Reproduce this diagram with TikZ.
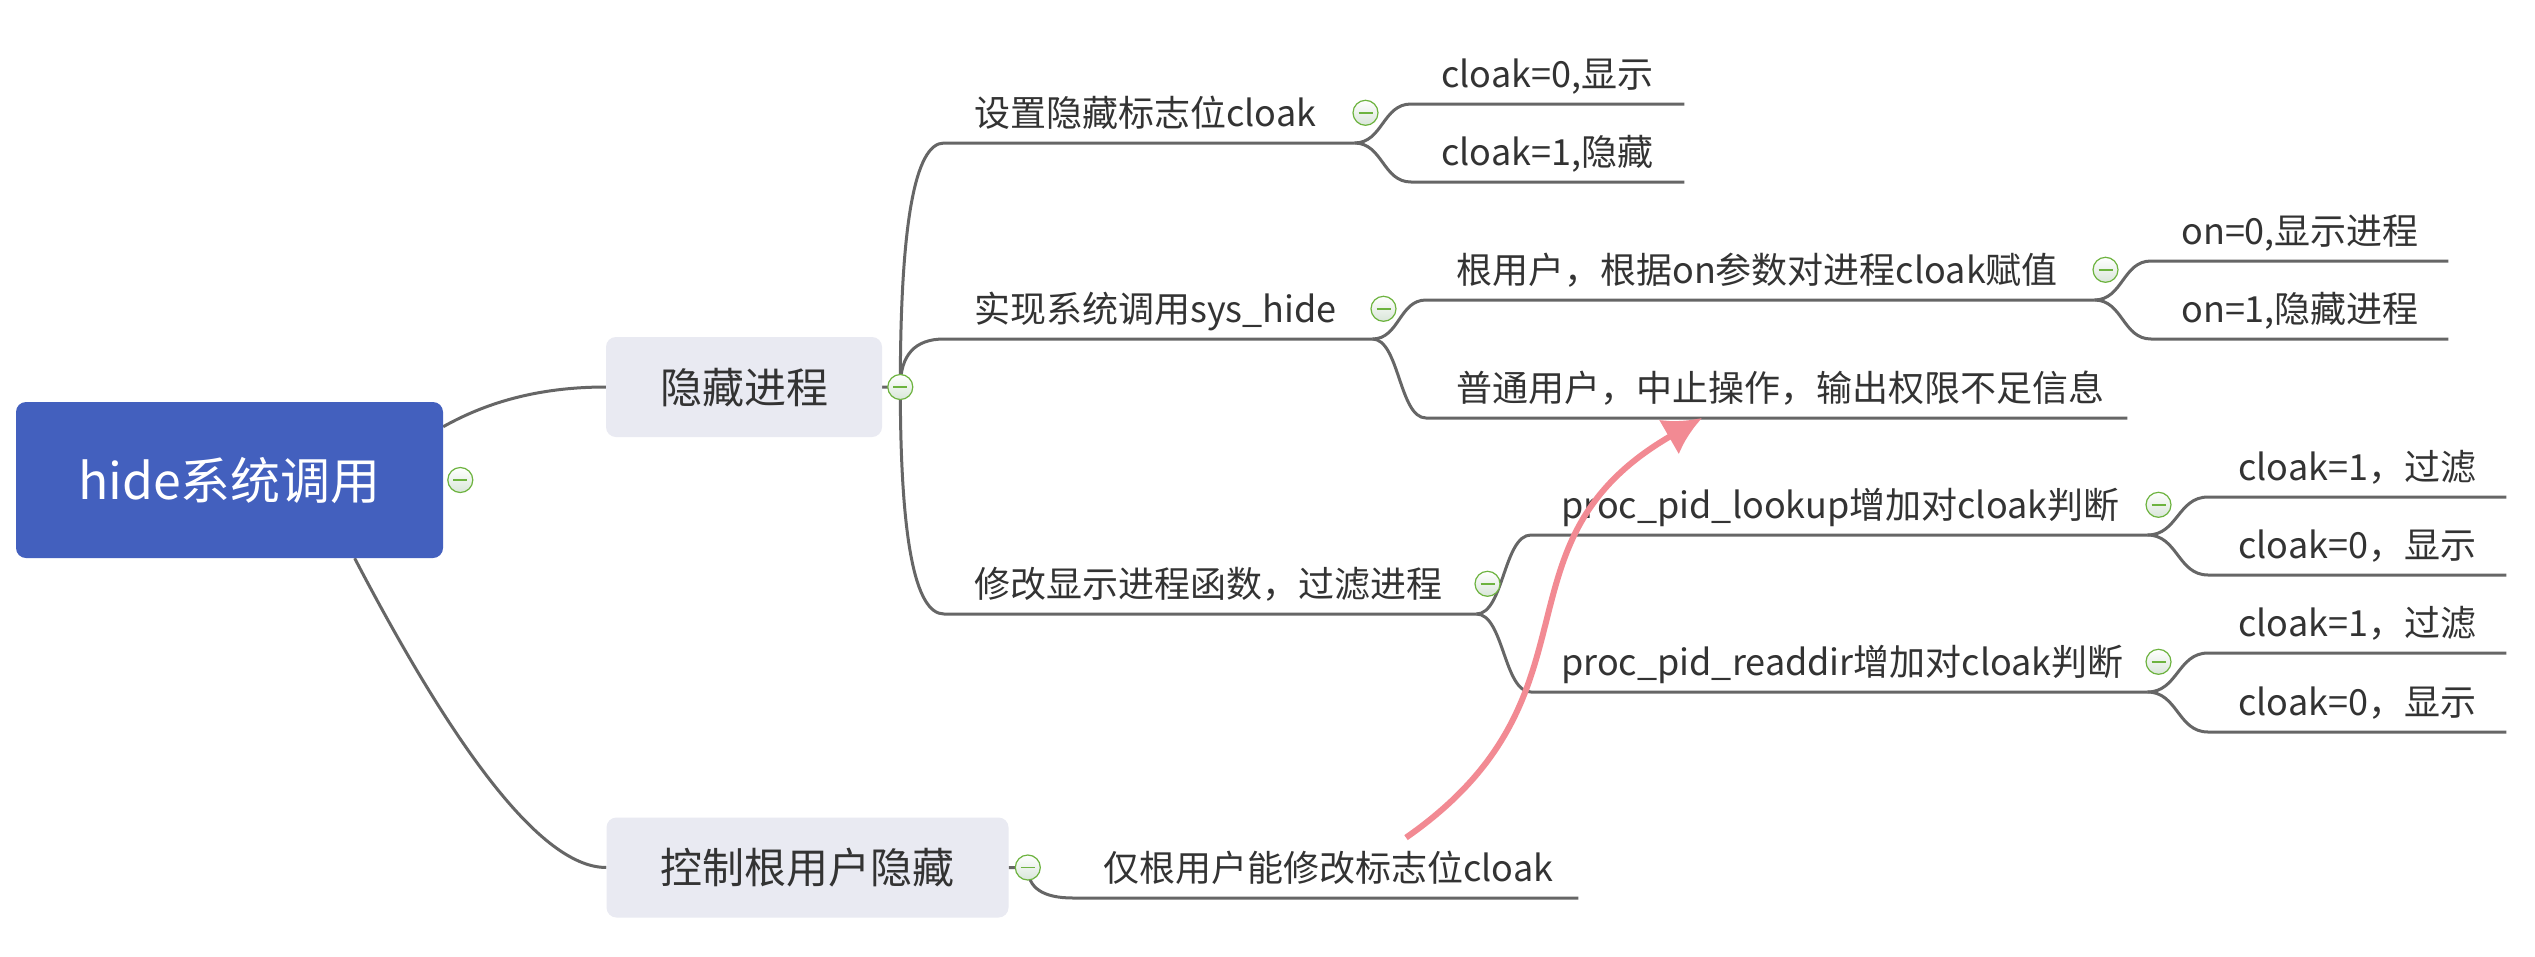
\documentclass[tikz,border=0pt]{standalone}
\usepackage{fontspec}
\usepackage{xcolor}
\usepackage{tikz}
\usetikzlibrary{arrows.meta,positioning,calc,backgrounds}
\newfontfamily\cjk{Noto Sans CJK SC}
\definecolor{rootblue}{HTML}{4360BE}
\definecolor{boxgray}{HTML}{E9EAF2}
\definecolor{edgegray}{HTML}{666666}
\definecolor{ink}{HTML}{333333}
\definecolor{foldgreen}{HTML}{6DB33F}
\definecolor{foldfill}{HTML}{D9E6D9}
\definecolor{linkpink}{HTML}{F28A93}

\begin{document}
\begin{tikzpicture}[x=1pt, y=-1pt, >=Latex,
  rootbox/.style={fill=rootblue,rounded corners=10pt,minimum width=427pt,minimum height=156pt,text height=46pt,text depth=8pt,text=white,font=\cjk\fontsize{50}{60}\selectfont},
  mainbox/.style={fill=boxgray,rounded corners=10pt,inner xsep=54pt,minimum height=100pt,text height=40pt,text depth=8pt,text=ink,font=\cjk\fontsize{42}{50}\selectfont},
  topic/.style={anchor=south west,inner xsep=30pt,inner ysep=0pt,minimum height=60pt,text height=34pt,text depth=7pt,align=left,text=ink,font=\cjk\fontsize{36}{44}\selectfont},
  fold/.style={circle,draw=foldgreen,line width=1.2pt,minimum size=25pt,inner sep=0pt,top color=white,bottom color=foldfill,
    path picture={\draw[foldgreen,line width=1.6pt] ([xshift=-7pt]path picture bounding box.center)--([xshift=7pt]path picture bounding box.center);}},
  branch/.style={draw=edgegray,line width=3pt},
  drop/.style={to path={.. controls ($(\tikztostart)!2/3!(\tikztostart |- \tikztotarget)$) and ($(\tikztotarget)!2/3!(\tikztostart |- \tikztotarget)$) .. (\tikztotarget)}},
  swing/.style={to path={.. controls ($(\tikztostart)!.5!(\tikztostart -| \tikztotarget)$) and ($(\tikztotarget)!.5!(\tikztotarget -| \tikztostart)$) .. (\tikztotarget)}},
  link/.style={draw=linkpink,line width=6pt,-{Latex[length=38pt,width=40pt]}}]
\path[use as bounding box] (0,0) rectangle (2535,956);
% central topic and main branches
\node[rootbox] (sys) at (229.5,480) {hide系统调用};
\node[mainbox] (proc) at (744,387) {隐藏进程};
\node[mainbox] (ctrl) at (807.5,867.5) {控制根用户隐藏};
\node[fold,right=4pt of sys] (sysfold) {};
\node[fold,right=5pt of proc] (procfold) {};
\node[fold,right=6pt of ctrl] (ctrlfold) {};
% sub topics
\node[topic,text width=350pt] (flag) at (944,143) {设置隐藏标志位cloak};
\node[topic,text width=368pt] (call) at (944,339) {实现系统调用sys\_hide};
\node[topic,text width=472pt] (filter) at (944,614) {修改显示进程函数，过滤进程};
\node[topic,text width=445pt] (rootonly) at (1073,898) {仅根用户能修改标志位cloak};
\node[topic,text width=213pt] (show) at (1411,104) {cloak=0,显示};
\node[topic,text width=213pt] (hidden) at (1411,182) {cloak=1,隐藏};
\node[topic,text width=608pt] (rootuser) at (1426,300) {根用户，根据on参数对进程cloak赋值};
\node[topic,text width=641pt] (normal) at (1426,418) {普通用户，中止操作，输出权限不足信息};
\node[topic,text width=556pt] (lookup) at (1531,535) {proc\_pid\_lookup增加对cloak判断};
\node[topic,text width=556pt] (readdir) at (1531,692) {proc\_pid\_readdir增加对cloak判断};
\node[topic,text width=237pt] (onshow) at (2151,261) {on=0,显示进程};
\node[topic,text width=237pt] (onhide) at (2151,339) {on=1,隐藏进程};
\node[topic,text width=238pt] (lkskip) at (2208,497) {cloak=1，过滤};
\node[topic,text width=238pt] (lkshow) at (2208,575) {cloak=0，显示};
\node[topic,text width=238pt] (rdskip) at (2208,653) {cloak=1，过滤};
\node[topic,text width=238pt] (rdshow) at (2208,732) {cloak=0，显示};
\node[fold,right=-2pt of flag] (flagfold) {};
\node[fold,right=-2pt of call] (callfold) {};
\node[fold,right=-2pt of filter] (filterfold) {};
\node[fold,right=-2pt of rootuser] (rootuserfold) {};
\node[fold,right=-2pt of lookup] (lookupfold) {};
\node[fold,right=-2pt of readdir] (readdirfold) {};
% connectors behind the nodes
\begin{scope}[on background layer]
\fill[white] (0,0) rectangle (2535,956);
\draw[branch] (sys.14) .. controls +(48,-27) and +(-61,0) .. (proc.west);
\draw[branch] (sys.-32) .. controls +(107,205) and +(-61,0) .. (ctrl.west);
\draw[branch] (proc.east)--(procfold.center) to[drop] (flag.south west)--(flag.south east);
\draw[branch] (procfold.center) to[drop] (call.south west)--(call.south east);
\draw[branch] (procfold.center) to[drop] (filter.south west)--(filter.south east);
\draw[branch] (ctrl.east)--(ctrlfold.center) to[drop] (rootonly.south west)--(rootonly.south east);
\draw[branch] (flag.south east) to[swing] (show.south west)--(show.south east);
\draw[branch] (flag.south east) to[swing] (hidden.south west)--(hidden.south east);
\draw[branch] (call.south east) to[swing] (rootuser.south west)--(rootuser.south east);
\draw[branch] (call.south east) to[swing] (normal.south west)--(normal.south east);
\draw[branch] (filter.south east) to[swing] (lookup.south west)--(lookup.south east);
\draw[branch] (filter.south east) to[swing] (readdir.south west)--(readdir.south east);
\draw[branch] (rootuser.south east) to[swing] (onshow.south west)--(onshow.south east);
\draw[branch] (rootuser.south east) to[swing] (onhide.south west)--(onhide.south east);
\draw[branch] (lookup.south east) to[swing] (lkskip.south west)--(lkskip.south east);
\draw[branch] (lookup.south east) to[swing] (lkshow.south west)--(lkshow.south east);
\draw[branch] (readdir.south east) to[swing] (rdskip.south west)--(rdskip.south east);
\draw[branch] (readdir.south east) to[swing] (rdshow.south west)--(rdshow.south east);
\end{scope}
% pink relation arrow
\draw[link] ([xshift=333pt]rootonly.north west) .. controls +(205,-143) and +(-217,125) .. ([xshift=276pt]normal.south west);
\end{tikzpicture}
\end{document}
